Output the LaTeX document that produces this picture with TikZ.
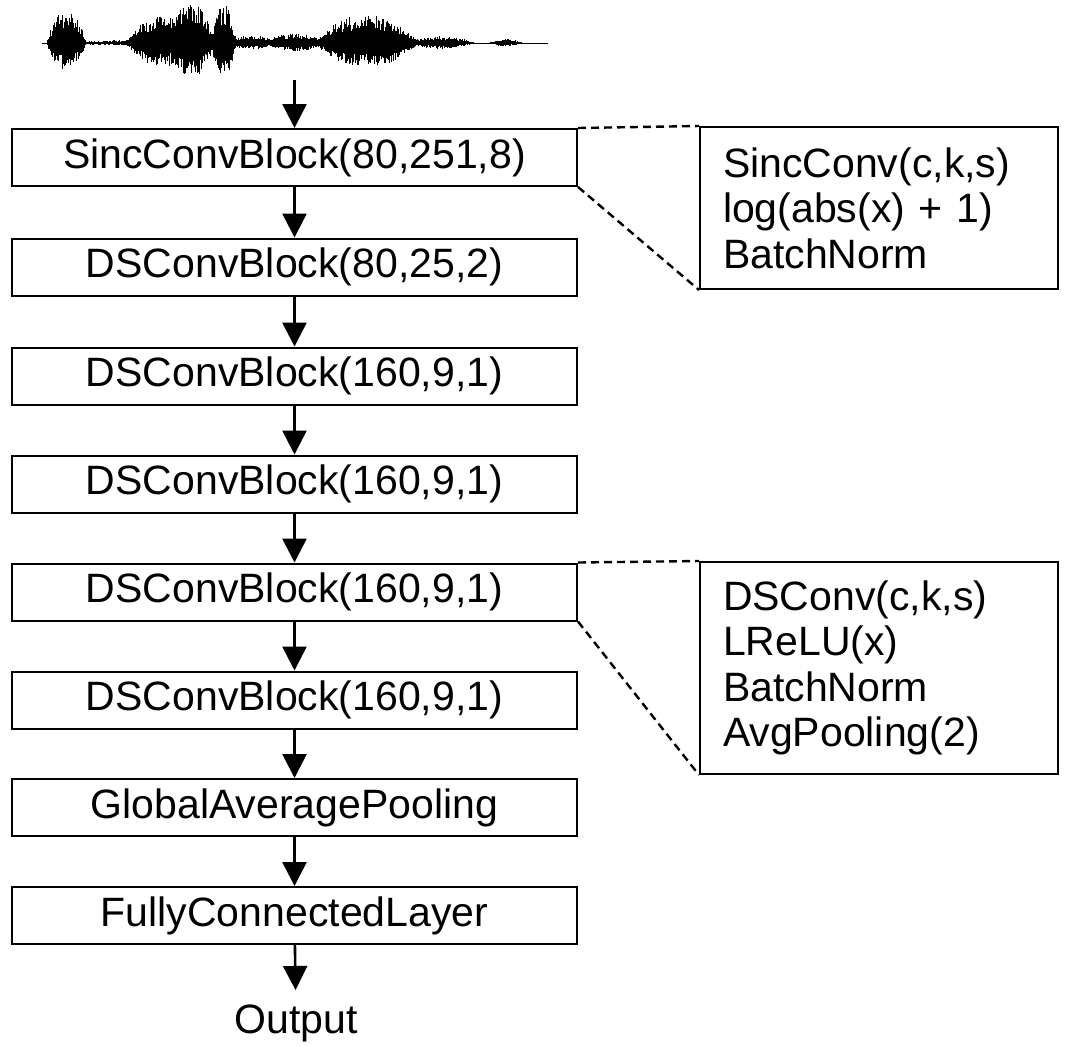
\documentclass[tikz,border=0pt]{standalone}
\usepackage{fontspec}
\setmainfont{Liberation Sans}
\usetikzlibrary{arrows.meta,positioning}
\tikzset{
  blockbox/.style={
    draw, line width=1pt, minimum width=282.5pt, minimum height=28.5pt,
    inner sep=0pt, font=\fontsize{20.5}{23}\selectfont
  },
  detailbox/.style={
    draw, line width=1pt, anchor=north west, minimum height=#1,
    inner xsep=11.5pt, inner ysep=0pt, text width=156pt, align=left,
    font=\fontsize{20.5}{22.75}\selectfont
  },
  flow/.style={-{Triangle[length=12pt, width=12pt]}, line width=1.3pt},
  zoomline/.style={dash pattern=on 4pt off 2.5pt, line width=1.2pt},
  wave/.style={line width=0.5pt}
}
\newcommand{\block}[3]{%
  \node[blockbox] (#1) at (294.5,#3) {#2};%
}
\newcommand{\burst}[3]{% from, to, peak
  \foreach \x in {#1,...,#2}{%
    \pgfmathsetmacro{\env}{#3*sin(180/(#2-#1)*(\x-#1))^0.8}%
    \pgfmathsetmacro{\up}{\env*(0.45+0.55*rnd)}%
    \pgfmathsetmacro{\dn}{0.85*\env*(0.45+0.55*rnd)}%
    \draw[wave] (\x,{43-\up}) -- (\x,{43+\dn});
  }%
}

\begin{document}
\begin{tikzpicture}[x=0.5pt, y=-0.5pt]
    \useasboundingbox (0,0) rectangle (1070,1045);
    % waveform
    \pgfmathsetseed{7}
    \draw[wave] (42,43) -- (548,43);
    \burst{42}{472}{5}
    \burst{46}{86}{33}
    \burst{125}{200}{28}
    \burst{165}{215}{42}
    \burst{210}{236}{40}
    \burst{228}{273}{8}
    \burst{264}{326}{10}
    \burst{314}{418}{29}
    \burst{406}{474}{7}
    \burst{488}{522}{4}
    \coordinate (wav) at (294.5,80);
    % blocks
    \block{sinc}{SincConvBlock(80,251,8)}{157.5}
    \block{ds1}{DSConvBlock(80,25,2)}{267}
    \block{ds2}{DSConvBlock(160,9,1)}{376}
    \block{ds3}{DSConvBlock(160,9,1)}{484}
    \block{ds4}{DSConvBlock(160,9,1)}{592}
    \block{ds5}{DSConvBlock(160,9,1)}{700}
    \block{gap}{GlobalAveragePooling}{807.5}
    \block{fc}{FullyConnectedLayer}{915.5}
    \node[font=\fontsize{20.5}{23}\selectfont, inner sep=7pt, anchor=north] (out) at (296,990) {Output};
    % details
    \node[detailbox=81pt] (sincdetail) at (699,126)
        {SincConv(c,k,s)\\ log(abs(x) + 1)\\ BatchNorm};
    \node[detailbox=106pt] (dsdetail) at (699,561)
        {DSConv(c,k,s)\\ LReLU(x)\\ BatchNorm\\ AvgPooling(2)};
    % arrows
    \draw[flow] (wav) -- (sinc);
    \draw[flow] (sinc) -- (ds1);
    \draw[flow] (ds1) -- (ds2);
    \draw[flow] (ds2) -- (ds3);
    \draw[flow] (ds3) -- (ds4);
    \draw[flow] (ds4) -- (ds5);
    \draw[flow] (ds5) -- (gap);
    \draw[flow] (gap) -- (fc);
    \draw[flow] (fc) -- (out);
    \draw[zoomline] (sinc.north east) -- (sincdetail.north west);
    \draw[zoomline] (sinc.south east) -- (sincdetail.south west);
    \draw[zoomline] (ds4.north east) -- (dsdetail.north west);
    \draw[zoomline] (ds4.south east) -- (dsdetail.south west);
\end{tikzpicture}
\end{document}
